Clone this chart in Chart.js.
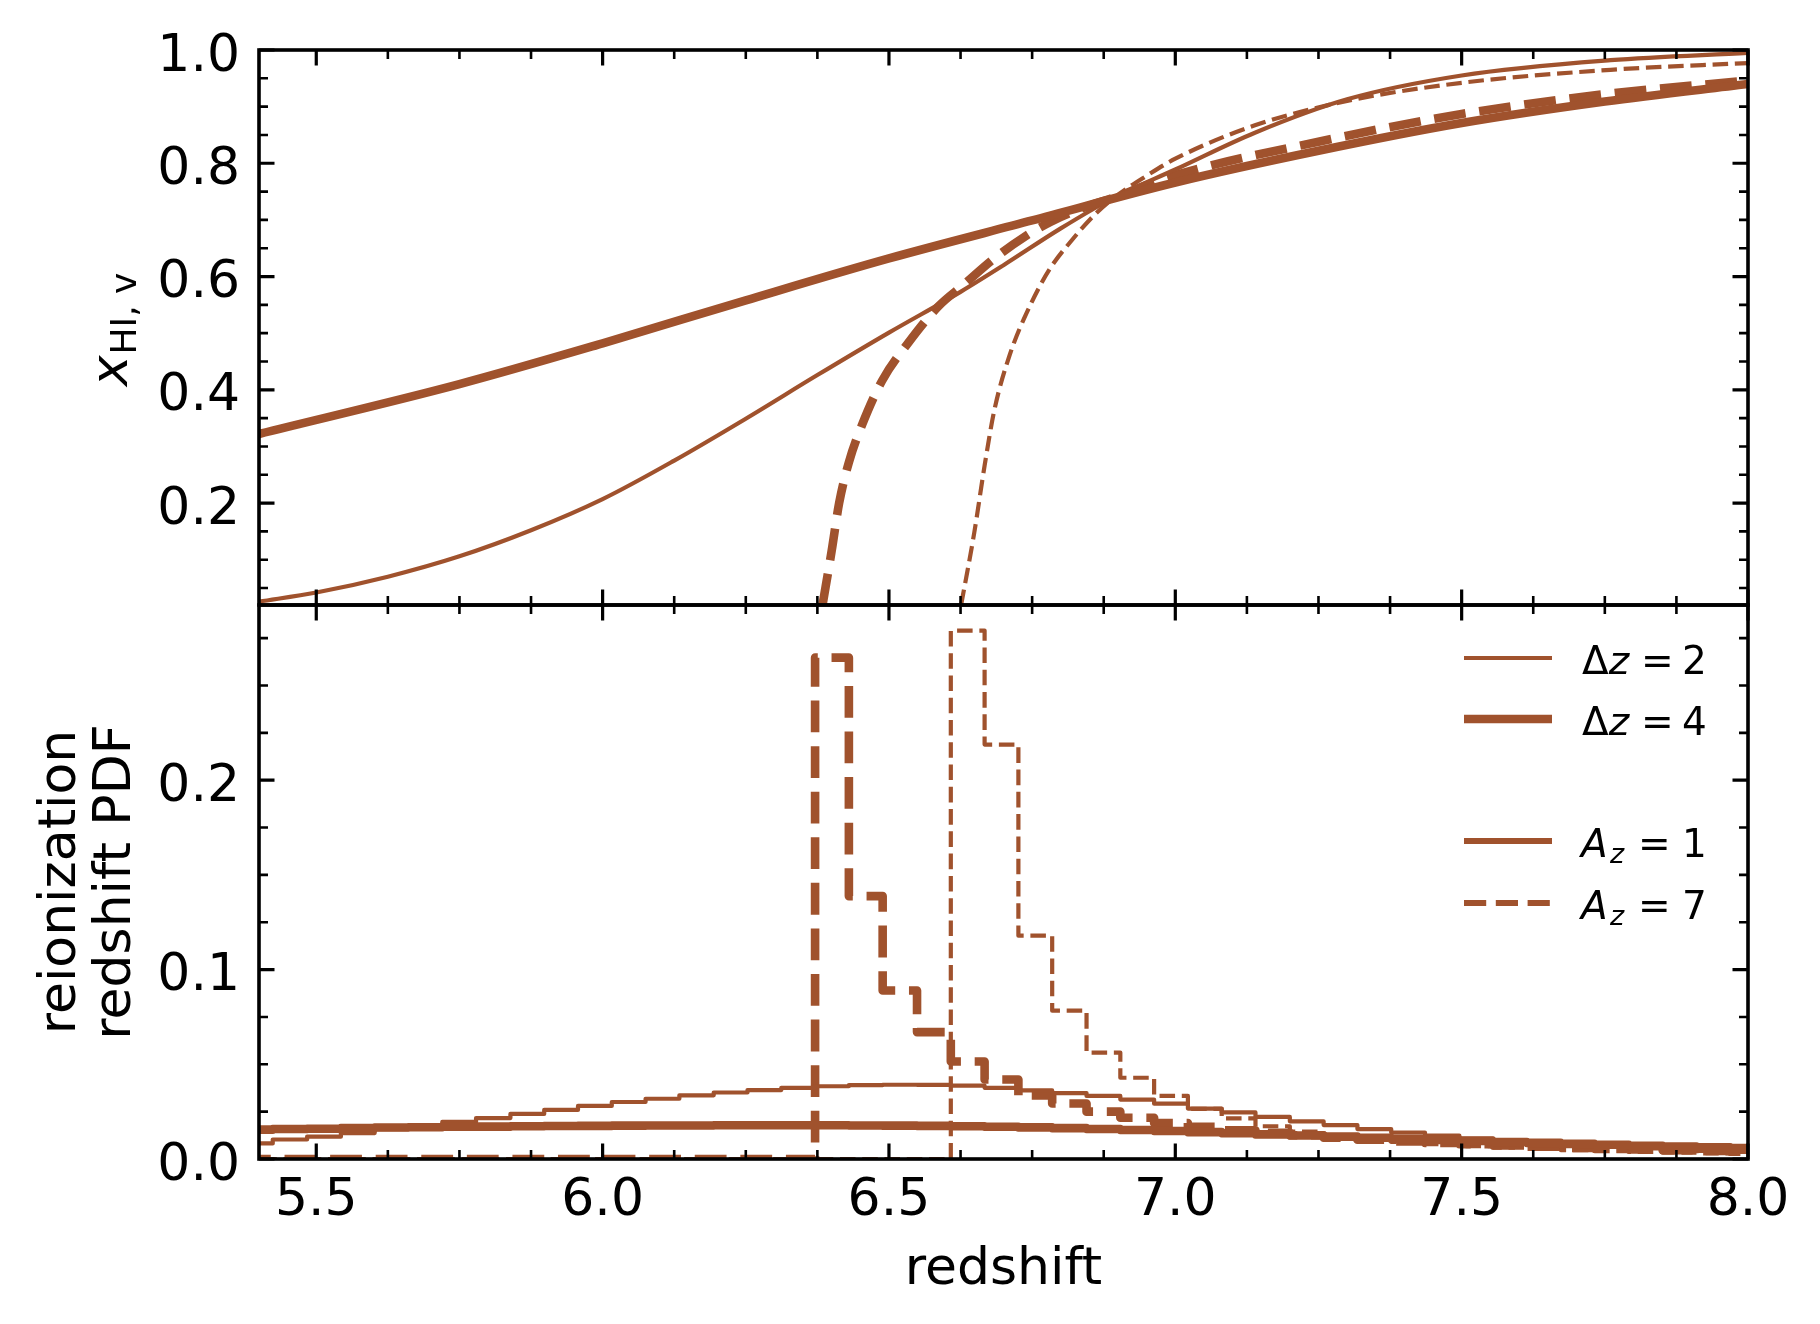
<!DOCTYPE html>
<html>
<head>
<meta charset="utf-8">
<script src="https://cdn.jsdelivr.net/npm/chart.js@4.4.1/dist/chart.umd.min.js"></script>
<style>
  html, body { margin: 0; padding: 0; background: #fff; }
  #wrap { position: relative; width: 1820px; height: 1324px; }
  #wrap canvas { position: absolute; left: 0; top: 0; }
</style>
</head>
<body>
<div id="wrap">
  <canvas id="xhiChart" width="1820" height="1324"></canvas>
  <canvas id="pdfChart" width="1820" height="1324"></canvas>
</div>
<script>
// --- tick labels ---
const xTicks = [5.5, 6.0, 6.5, 7.0, 7.5, 8.0];
const xhiTicks = [0.2, 0.4, 0.6, 0.8, 1.0];
const pdfTicks = [0.0, 0.1, 0.2];

// --- upper panel: neutral fraction vs redshift ---
const zDz2Az1   = [5.4, 5.5, 5.625, 5.75, 5.875, 6.0, 6.125, 6.25, 6.375, 6.5, 6.625, 6.7, 6.8, 6.894, 7.0, 7.139, 7.3, 7.5, 7.76, 8.0];
const xhiDz2Az1 = [0.026, 0.042, 0.070, 0.106, 0.152, 0.207, 0.275, 0.349, 0.426, 0.501, 0.573, 0.620, 0.685, 0.740, 0.789, 0.854, 0.913, 0.955, 0.982, 0.995];

const zDz4Az1   = [5.4, 5.75, 6.0, 6.25, 6.5, 6.75, 7.0, 7.25, 7.5, 7.75, 8.0];
const xhiDz4Az1 = [0.322, 0.410, 0.482, 0.558, 0.632, 0.699, 0.766, 0.822, 0.871, 0.909, 0.940];

const zDz4Az7   = [6.384, 6.400, 6.413, 6.430, 6.453, 6.488, 6.533, 6.586, 6.631, 6.684, 6.738, 6.783, 6.836, 6.894, 7.0, 7.25, 7.5, 7.75, 8.0];
const xhiDz4Az7 = [0.020, 0.116, 0.200, 0.272, 0.338, 0.416, 0.482, 0.547, 0.586, 0.632, 0.671, 0.697, 0.720, 0.740, 0.779, 0.838, 0.887, 0.922, 0.946];

const zDz2Az7   = [6.626, 6.649, 6.667, 6.684, 6.711, 6.747, 6.780, 6.820, 6.860, 6.894, 6.950, 7.0, 7.139, 7.3, 7.5, 7.76, 8.0];
const xhiDz2Az7 = [0.020, 0.148, 0.266, 0.364, 0.462, 0.550, 0.612, 0.665, 0.710, 0.740, 0.778, 0.808, 0.867, 0.910, 0.942, 0.965, 0.977];

// --- lower panel: reionization redshift histograms ---
const binEdges = [5.365, 5.424, 5.484, 5.543, 5.602, 5.661, 5.720, 5.779, 5.839, 5.898,
                  5.957, 6.016, 6.075, 6.134, 6.194, 6.253, 6.312, 6.371, 6.430, 6.489,
                  6.549, 6.608, 6.667, 6.726, 6.785, 6.845, 6.904, 6.963, 7.022, 7.081,
                  7.140, 7.200, 7.259, 7.318, 7.377, 7.436, 7.496, 7.555, 7.614, 7.673,
                  7.732, 7.792, 7.851, 7.910, 7.969, 8.028];

const pdfDz2Az1 = [0.0082, 0.0103, 0.0118, 0.0137, 0.0157, 0.0176, 0.0196, 0.0216, 0.0238, 0.0259,
                   0.0280, 0.0301, 0.0318, 0.0336, 0.0351, 0.0364, 0.0376, 0.0384, 0.0390, 0.0392,
                   0.0391, 0.0387, 0.0376, 0.0362, 0.0348, 0.0333, 0.0314, 0.0292, 0.0266, 0.0246,
                   0.0222, 0.0199, 0.0179, 0.0158, 0.0140, 0.0124, 0.0109, 0.0096, 0.0084, 0.0073,
                   0.0064, 0.0056, 0.0049, 0.0043, 0.0038];

const pdfDz4Az1 = [0.0155, 0.0158, 0.0160, 0.0163, 0.0166, 0.0168, 0.0170, 0.0171, 0.0173, 0.0174,
                   0.0175, 0.0176, 0.0177, 0.0177, 0.0178, 0.0178, 0.0178, 0.0178, 0.0177, 0.0176,
                   0.0175, 0.0173, 0.0170, 0.0167, 0.0163, 0.0158, 0.0153, 0.0148, 0.0142, 0.0136,
                   0.0130, 0.0124, 0.0118, 0.0112, 0.0106, 0.0100, 0.0095, 0.0090, 0.0085, 0.0080,
                   0.0075, 0.0070, 0.0066, 0.0062, 0.0058];

const pdfDz4Az7 = [0, 0, 0, 0, 0, 0, 0, 0, 0, 0,
                   0, 0, 0, 0, 0, 0, 0, 0.2647, 0.1388, 0.0890,
                   0.0670, 0.0515, 0.0420, 0.0335, 0.0293, 0.0250, 0.0218, 0.0190, 0.0170, 0.0152,
                   0.0138, 0.0125, 0.0113, 0.0102, 0.0093, 0.0085, 0.0078, 0.0071, 0.0065, 0.0059,
                   0.0054, 0.0050, 0.0046, 0.0042, 0.0039];

const pdfDz2Az7 = [0, 0, 0, 0, 0, 0, 0, 0, 0, 0,
                   0, 0, 0, 0, 0, 0, 0, 0, 0, 0,
                   0, 0.2790, 0.2188, 0.1179, 0.0783, 0.0562, 0.0429, 0.0333, 0.0265, 0.0214,
                   0.0173, 0.0145, 0.0122, 0.0104, 0.0090, 0.0078, 0.0068, 0.0060, 0.0053, 0.0047,
                   0.0042, 0.0037, 0.0033, 0.0030, 0.0027];

// --- styles ---
const COR = '#a0522d';
const FONT = '"DejaVu Sans", "Liberation Sans", sans-serif';
const THIN = 4.2, THICK = 8.6;
const dashFor = lw => [3.7 * lw, 1.6 * lw];

const pontos = (xs, ys) => xs.map((x, i) => ({ x: x, y: ys[i] }));
function degraus(edges, vals) {
    const pts = vals.map((v, i) => ({ x: edges[i], y: v }));
    pts.push({ x: edges[vals.length], y: vals[vals.length - 1] });
    return pts;
}

function curva(data, lw, dashed) {
    return { data: data, borderColor: COR, borderWidth: lw, borderDash: dashed ? dashFor(lw) : [],
             cubicInterpolationMode: 'monotone', pointRadius: 0, fill: false };
}
function histo(data, lw, dashed) {
    return { data: data, borderColor: COR, borderWidth: lw, borderDash: dashed ? dashFor(lw) : [],
             stepped: 'before', pointRadius: 0, fill: false };
}

// minor tick helpers
const minorX = [];
for (let k = 1; k <= 20; k++) if (k % 4) minorX.push(5.5 + k * 0.125);
const minorXhi = [];
for (let k = 1; k <= 19; k++) if (k % 4) minorXhi.push(k * 0.05);
const minorPdf = [];
for (let k = 1; k <= 11; k++) if (k % 4) minorPdf.push(k * 0.025);

function desenharEixos(chart, cfg) {
    const ctx = chart.ctx, a = chart.chartArea;
    const xs = chart.scales.x, ys = chart.scales.y;
    ctx.save();
    ctx.strokeStyle = '#000';
    ctx.lineCap = 'butt';
    const marcas = (vals, isX, len, w) => {
        ctx.lineWidth = w;
        ctx.beginPath();
        vals.forEach(v => {
            if (isX) {
                const p = xs.getPixelForValue(v);
                ctx.moveTo(p, a.bottom); ctx.lineTo(p, a.bottom - len);
                ctx.moveTo(p, a.top); ctx.lineTo(p, a.top + len);
            } else {
                const p = ys.getPixelForValue(v);
                ctx.moveTo(a.left, p); ctx.lineTo(a.left + len, p);
                ctx.moveTo(a.right, p); ctx.lineTo(a.right - len, p);
            }
        });
        ctx.stroke();
    };
    marcas(minorX, true, 9, 2.6);
    marcas(xTicks, true, 15.5, 3.2);
    marcas(cfg.minorY, false, 9, 2.6);
    marcas(cfg.majorY, false, 15.5, 3.2);
    ctx.lineWidth = 3.6;
    ctx.strokeRect(a.left, a.top, a.right - a.left, a.bottom - a.top);

    ctx.fillStyle = '#000';
    ctx.font = '52px ' + FONT;
    ctx.textBaseline = 'alphabetic';
    ctx.textAlign = 'right';
    cfg.majorY.forEach(v => ctx.fillText(v.toFixed(1), a.left - 19, ys.getPixelForValue(v) + 20.5));
    if (cfg.xLabels) {
        ctx.textAlign = 'center';
        xTicks.forEach(v => ctx.fillText(v.toFixed(1), xs.getPixelForValue(v), a.bottom + 56));
    }
    ctx.restore();
}

function opcoes(pad, yMin, yMax) {
    return {
        responsive: false, animation: false, devicePixelRatio: 1,
        layout: { padding: pad },
        plugins: { legend: { display: false }, tooltip: { enabled: false } },
        elements: { line: { borderCapStyle: 'butt', borderJoinStyle: 'round' } },
        scales: {
            x: { type: 'linear', display: false, min: 5.4, max: 8.0 },
            y: { type: 'linear', display: false, min: yMin, max: yMax }
        }
    };
}

// --- upper chart ---
new Chart(document.getElementById('xhiChart'), {
    type: 'line',
    data: { datasets: [
        curva(pontos(zDz4Az1, xhiDz4Az1), THICK, false),
        curva(pontos(zDz2Az1, xhiDz2Az1), THIN, false),
        curva(pontos(zDz4Az7, xhiDz4Az7), THICK, true),
        curva(pontos(zDz2Az7, xhiDz2Az7), THIN, true)
    ] },
    options: opcoes({ left: 259, right: 72, top: 50, bottom: 719 }, 0.02, 1.0),
    plugins: [{
        id: 'eixosSuperior',
        afterDraw(chart) {
            desenharEixos(chart, { majorY: xhiTicks, minorY: minorXhi, xLabels: false });
            const ctx = chart.ctx;
            ctx.save();
            ctx.fillStyle = '#000';
            ctx.translate(127, 330);
            ctx.rotate(-Math.PI / 2);
            ctx.font = 'italic 52px ' + FONT;
            const w1 = ctx.measureText('x').width;
            ctx.font = '36px ' + FONT;
            const w2 = ctx.measureText('HI, v').width;
            let x0 = -(w1 + w2) / 2;
            ctx.textAlign = 'left';
            ctx.font = 'italic 52px ' + FONT;
            ctx.fillText('x', x0, 0);
            ctx.font = '36px ' + FONT;
            ctx.fillText('HI, v', x0 + w1 + 1, 9);
            ctx.restore();
        }
    }]
});

// --- lower chart ---
const legenda = [
    { y: 658, lw: THIN, dash: false, partes: [['Δ', false], ['z', true]], eqX: 1641, num: '2' },
    { y: 719, lw: THICK, dash: false, partes: [['Δ', false], ['z', true]], eqX: 1641, num: '4' },
    { y: 841, lw: 6.2, dash: false, partes: 'Az', eqX: 1638, num: '1' },
    { y: 903, lw: 6.0, dash: true, partes: 'Az', eqX: 1638, num: '7' }
];

new Chart(document.getElementById('pdfChart'), {
    type: 'line',
    data: { datasets: [
        histo(degraus(binEdges, pdfDz4Az1), THICK, false),
        histo(degraus(binEdges, pdfDz2Az1), THIN, false),
        histo(degraus(binEdges, pdfDz4Az7), THICK, true),
        histo(degraus(binEdges, pdfDz2Az7), THIN, true)
    ] },
    options: opcoes({ left: 259, right: 72, top: 605, bottom: 165 }, 0.0, 0.2925),
    plugins: [{
        id: 'eixosInferior',
        afterDraw(chart) {
            desenharEixos(chart, { majorY: pdfTicks, minorY: minorPdf, xLabels: true });
            const ctx = chart.ctx, a = chart.chartArea;
            ctx.save();
            ctx.fillStyle = '#000';
            ctx.font = '52px ' + FONT;
            ctx.textAlign = 'center';
            ctx.textBaseline = 'alphabetic';
            ctx.fillText('redshift', (a.left + a.right) / 2, 1284);

            ctx.save();
            ctx.translate(0, 882);
            ctx.rotate(-Math.PI / 2);
            ctx.fillText('reionization', 0, 75);
            ctx.fillText('redshift PDF', 0, 130);
            ctx.restore();

            // legend
            legenda.forEach(item => {
                ctx.strokeStyle = COR;
                ctx.lineWidth = item.lw;
                ctx.lineCap = 'butt';
                ctx.setLineDash(item.dash ? dashFor(item.lw) : []);
                ctx.beginPath();
                ctx.moveTo(1464, item.y);
                ctx.lineTo(1552, item.y);
                ctx.stroke();
                ctx.setLineDash([]);
                const base = item.y + 15.5;
                ctx.textAlign = 'left';
                ctx.fillStyle = '#000';
                if (item.partes === 'Az') {
                    ctx.font = 'italic 39px ' + FONT;
                    ctx.fillText('A', 1581, base);
                    ctx.font = 'italic 27px ' + FONT;
                    ctx.fillText('z', 1610, base + 6);
                } else {
                    let x = 1582;
                    item.partes.forEach(([t, it]) => {
                        ctx.font = (it ? 'italic ' : '') + '39px ' + FONT;
                        ctx.fillText(t, x, base);
                        x += ctx.measureText(t).width;
                    });
                }
                ctx.font = '39px ' + FONT;
                ctx.fillText('=', item.eqX, base);
                ctx.fillText(item.num, 1682, base);
            });
            ctx.restore();
        }
    }]
});
</script>
</body>
</html>
